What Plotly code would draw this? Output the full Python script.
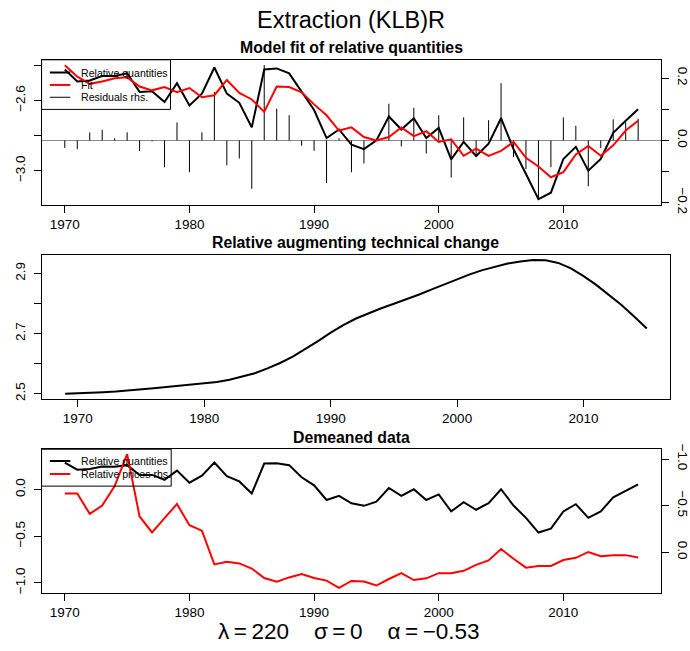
import plotly.graph_objects as go

W, H = 690, 651

years = list(range(1970, 2017))
years_tc = list(range(1969, 2016))

rel_quant = [-2.423, -2.492, -2.486, -2.460, -2.460, -2.445, -2.551, -2.547, -2.609, -2.501,
             -2.628, -2.561, -2.412, -2.561, -2.613, -2.753, -2.423, -2.417, -2.445, -2.547,
             -2.654, -2.814, -2.765, -2.851, -2.877, -2.827, -2.691, -2.765, -2.701, -2.814,
             -2.756, -2.935, -2.836, -2.916, -2.846, -2.701, -2.877, -3.019, -3.162, -3.125,
             -2.933, -2.864, -3.000, -2.933, -2.784, -2.715, -2.650]

fit = [-2.399, -2.464, -2.505, -2.492, -2.473, -2.468, -2.520, -2.542, -2.523, -2.553,
       -2.529, -2.581, -2.570, -2.483, -2.557, -2.594, -2.665, -2.520, -2.523, -2.553,
       -2.622, -2.684, -2.771, -2.753, -2.808, -2.827, -2.808, -2.753, -2.803, -2.775,
       -2.836, -2.821, -2.915, -2.874, -2.915, -2.887, -2.836, -2.926, -2.976, -3.037,
       -3.008, -2.907, -2.859, -2.915, -2.855, -2.771, -2.715]

residuals = [-0.024, -0.028, 0.026, 0.034, 0.007, 0.026, -0.034, -0.003, -0.086, 0.058,
             -0.102, 0.026, 0.156, -0.080, -0.058, -0.155, 0.242, 0.102, 0.081, -0.017,
             -0.033, -0.137, 0.007, -0.102, -0.074, 0.000, 0.118, -0.019, 0.105, -0.042,
             0.081, -0.119, 0.074, -0.045, 0.065, 0.184, -0.053, -0.092, -0.189, -0.086,
             0.074, 0.047, -0.147, -0.024, 0.068, 0.058, 0.070]

tech_change = [2.500, 2.501, 2.503, 2.505, 2.507, 2.510, 2.514, 2.518, 2.522, 2.526,
               2.529, 2.533, 2.539, 2.546, 2.556, 2.568, 2.584, 2.602, 2.623, 2.648,
               2.675, 2.703, 2.728, 2.750, 2.768, 2.784, 2.799, 2.814, 2.830, 2.847,
               2.864, 2.881, 2.897, 2.911, 2.923, 2.933, 2.940, 2.945, 2.944, 2.935,
               2.917, 2.891, 2.862, 2.830, 2.795, 2.757, 2.717]

dm_quant = [0.292, 0.215, 0.222, 0.250, 0.247, 0.264, 0.159, 0.159, 0.107, 0.205,
            0.076, 0.152, 0.292, 0.145, 0.089, -0.040, 0.281, 0.285, 0.264, 0.134,
            0.047, -0.110, -0.065, -0.145, -0.173, -0.128, 0.019, -0.065, 0.005, -0.110,
            -0.050, -0.233, -0.134, -0.215, -0.145, 0.005, -0.170, -0.302, -0.460, -0.418,
            -0.233, -0.155, -0.302, -0.233, -0.082, -0.013, 0.058]

dm_prices = [-0.630, -0.630, -0.412, -0.500, -0.710, -1.052, -0.384, -0.213, -0.367, -0.517,
             -0.290, -0.231, 0.130, 0.102, 0.120, 0.175, 0.277, 0.315, 0.270, 0.235,
             0.277, 0.304, 0.382, 0.308, 0.315, 0.357, 0.287, 0.224, 0.298, 0.280,
             0.224, 0.224, 0.199, 0.136, 0.088, -0.035, 0.070, 0.165, 0.147, 0.147,
             0.084, 0.060, -0.003, 0.042, 0.031, 0.031, 0.056]

x_ticks = [1970, 1980, 1990, 2000, 2010]

FONT = "Liberation Sans, Arial, sans-serif"
TICKF = dict(family=FONT, size=13.5, color="black")


def px(x):
    return x / W


def py(y):
    return 1 - y / H


# panel boxes (pixel coordinates)
P1 = (42, 663, 56, 204)
P2 = (42, 672, 255, 402.7)
P3 = (42, 663, 454, 601)


def dom(p):
    return dict(x=[px(p[0]), px(p[1])], y=[py(p[3]), py(p[2])])


d1, d2, d3 = dom(P1), dom(P2), dom(P3)

fig = go.Figure()

# residual needles
rx, ry = [], []
for yr, r in zip(years, residuals):
    rx += [yr, yr, None]
    ry += [0, r, None]
fig.add_trace(go.Scatter(x=rx, y=ry, mode="lines", line=dict(color="black", width=1),
                         xaxis="x", yaxis="y", showlegend=False, name="Residuals rhs."))
fig.add_trace(go.Scatter(x=years, y=rel_quant, mode="lines", line=dict(color="black", width=2),
                         xaxis="x", yaxis="y2", showlegend=False, name="Relative quantities"))
fig.add_trace(go.Scatter(x=years, y=fit, mode="lines", line=dict(color="red", width=2),
                         xaxis="x", yaxis="y2", showlegend=False, name="Fit"))

fig.add_trace(go.Scatter(x=years_tc, y=tech_change, mode="lines", line=dict(color="black", width=2),
                         xaxis="x2", yaxis="y3", showlegend=False))

fig.add_trace(go.Scatter(x=years, y=dm_quant, mode="lines", line=dict(color="black", width=2),
                         xaxis="x3", yaxis="y4", showlegend=False, name="Relative quantities"))
fig.add_trace(go.Scatter(x=years, y=dm_prices, mode="lines", line=dict(color="red", width=2),
                         xaxis="x3", yaxis="y5", showlegend=False, name="Relative prices rhs."))

common_x = dict(showline=True, linecolor="black", linewidth=1, mirror=True, ticks="outside",
                ticklen=7, tickcolor="black", tickfont=TICKF, showgrid=False, zeroline=False,
                tickvals=x_ticks, ticktext=[str(t) for t in x_ticks], ticklabelstandoff=0)
common_y = dict(ticks="outside", ticklen=7, tickcolor="black", tickfont=TICKF,
                showgrid=False)
LEFT_SO = 3
RIGHT_SO = 4

fig.update_layout(
    width=W, height=H, margin=dict(l=0, r=0, t=0, b=0),
    paper_bgcolor="white", plot_bgcolor="white", showlegend=False,
    xaxis=dict(domain=d1["x"], anchor="y", range=[1968.16, 2017.84], **common_x),
    yaxis=dict(domain=d1["y"], anchor="x", side="right", range=[-0.206, 0.259],
               tickvals=[-0.2, -0.1, 0, 0.1, 0.2], ticktext=["−0.2", "", "0.0", "", "0.2"],
               tickangle=90, showline=True, linecolor="black", linewidth=1, mirror=True,
               ticklabelstandoff=RIGHT_SO, **common_y,
               zeroline=True, zerolinecolor="#8a8a8a", zerolinewidth=1),
    yaxis2=dict(overlaying="y", side="left", anchor="x", range=[-3.193, -2.368],
                tickvals=[-3.0, -2.8, -2.6, -2.4], ticktext=["−3.0", "", "−2.6", ""],
                tickangle=-90, showline=False, zeroline=False, ticklabelstandoff=LEFT_SO,
                **common_y),
    xaxis2=dict(domain=d2["x"], anchor="y3", range=[1967.16, 2016.84], **common_x),
    yaxis3=dict(domain=d2["y"], anchor="x2", range=[2.482, 2.963],
                tickvals=[2.5, 2.6, 2.7, 2.8, 2.9], ticktext=["2.5", "", "2.7", "", "2.9"],
                tickangle=-90, showline=True, linecolor="black", linewidth=1, mirror=True,
                zeroline=False, ticklabelstandoff=LEFT_SO, **common_y),
    xaxis3=dict(domain=d3["x"], anchor="y4", range=[1968.16, 2017.84], **common_x),
    yaxis4=dict(domain=d3["y"], anchor="x3", range=[-1.11, 0.435],
                tickvals=[-1.0, -0.5, 0.0], ticktext=["−1.0", "−0.5", "0.0"],
                tickangle=-90, showline=True, linecolor="black", linewidth=1, mirror=True,
                zeroline=False, ticklabelstandoff=LEFT_SO, **common_y),
    yaxis5=dict(overlaying="y4", side="right", anchor="x3", range=[0.438, -1.105],
                tickvals=[-1.0, -0.5, 0.0], ticktext=["−1.0", "−0.5", "0.0"],
                tickangle=90, showline=False, zeroline=False, ticklabelstandoff=RIGHT_SO,
                **common_y),
)

ann = []


def text(x, y, s, size, bold=False, xanchor="center"):
    ann.append(dict(x=px(x), y=py(y), xref="paper", yref="paper", text=("<b>%s</b>" % s) if bold else s,
                    showarrow=False, xanchor=xanchor, yanchor="middle",
                    font=dict(family=FONT, size=size, color="black")))


text(352.5, 15, "Extraction (KLB)R", 23.5)
text(352.5, 43.5, "Model fit of relative quantities", 15.8, bold=True)
text(357, 243, "Relative augmenting technical change", 15.8, bold=True)
text(352.5, 442, "Demeaned data", 15.8, bold=True)
text(350.5, 640, "λ\u2009=\u2009220    σ\u2009=\u20090    α\u2009=\u2009−0.53", 22.5)

shapes = []


def legend(box, entries):
    x0, x1, y0, y1 = box
    shapes.append(dict(type="rect", xref="paper", yref="paper", x0=px(x0), x1=px(x1),
                       y0=py(y1), y1=py(y0), line=dict(color="black", width=1)))
    for (yy, label, color, w) in entries:
        shapes.append(dict(type="line", xref="paper", yref="paper", x0=px(50), x1=px(70.5),
                           y0=py(yy), y1=py(yy), line=dict(color=color, width=w)))
        text(79.3, yy, label, 10.6, xanchor="left")


legend((41.7, 171, 56, 106.7), [(69, "Relative quantities", "black", 2),
                                (81.7, "Fit", "red", 2),
                                (94.3, "Residuals rhs.", "black", 1)])
legend((41.7, 171.7, 454, 491.7), [(466, "Relative quantities", "black", 2),
                                   (479.3, "Relative prices rhs.", "red", 2)])

fig.update_layout(annotations=ann, shapes=shapes)

fig.write_html("out.html")
